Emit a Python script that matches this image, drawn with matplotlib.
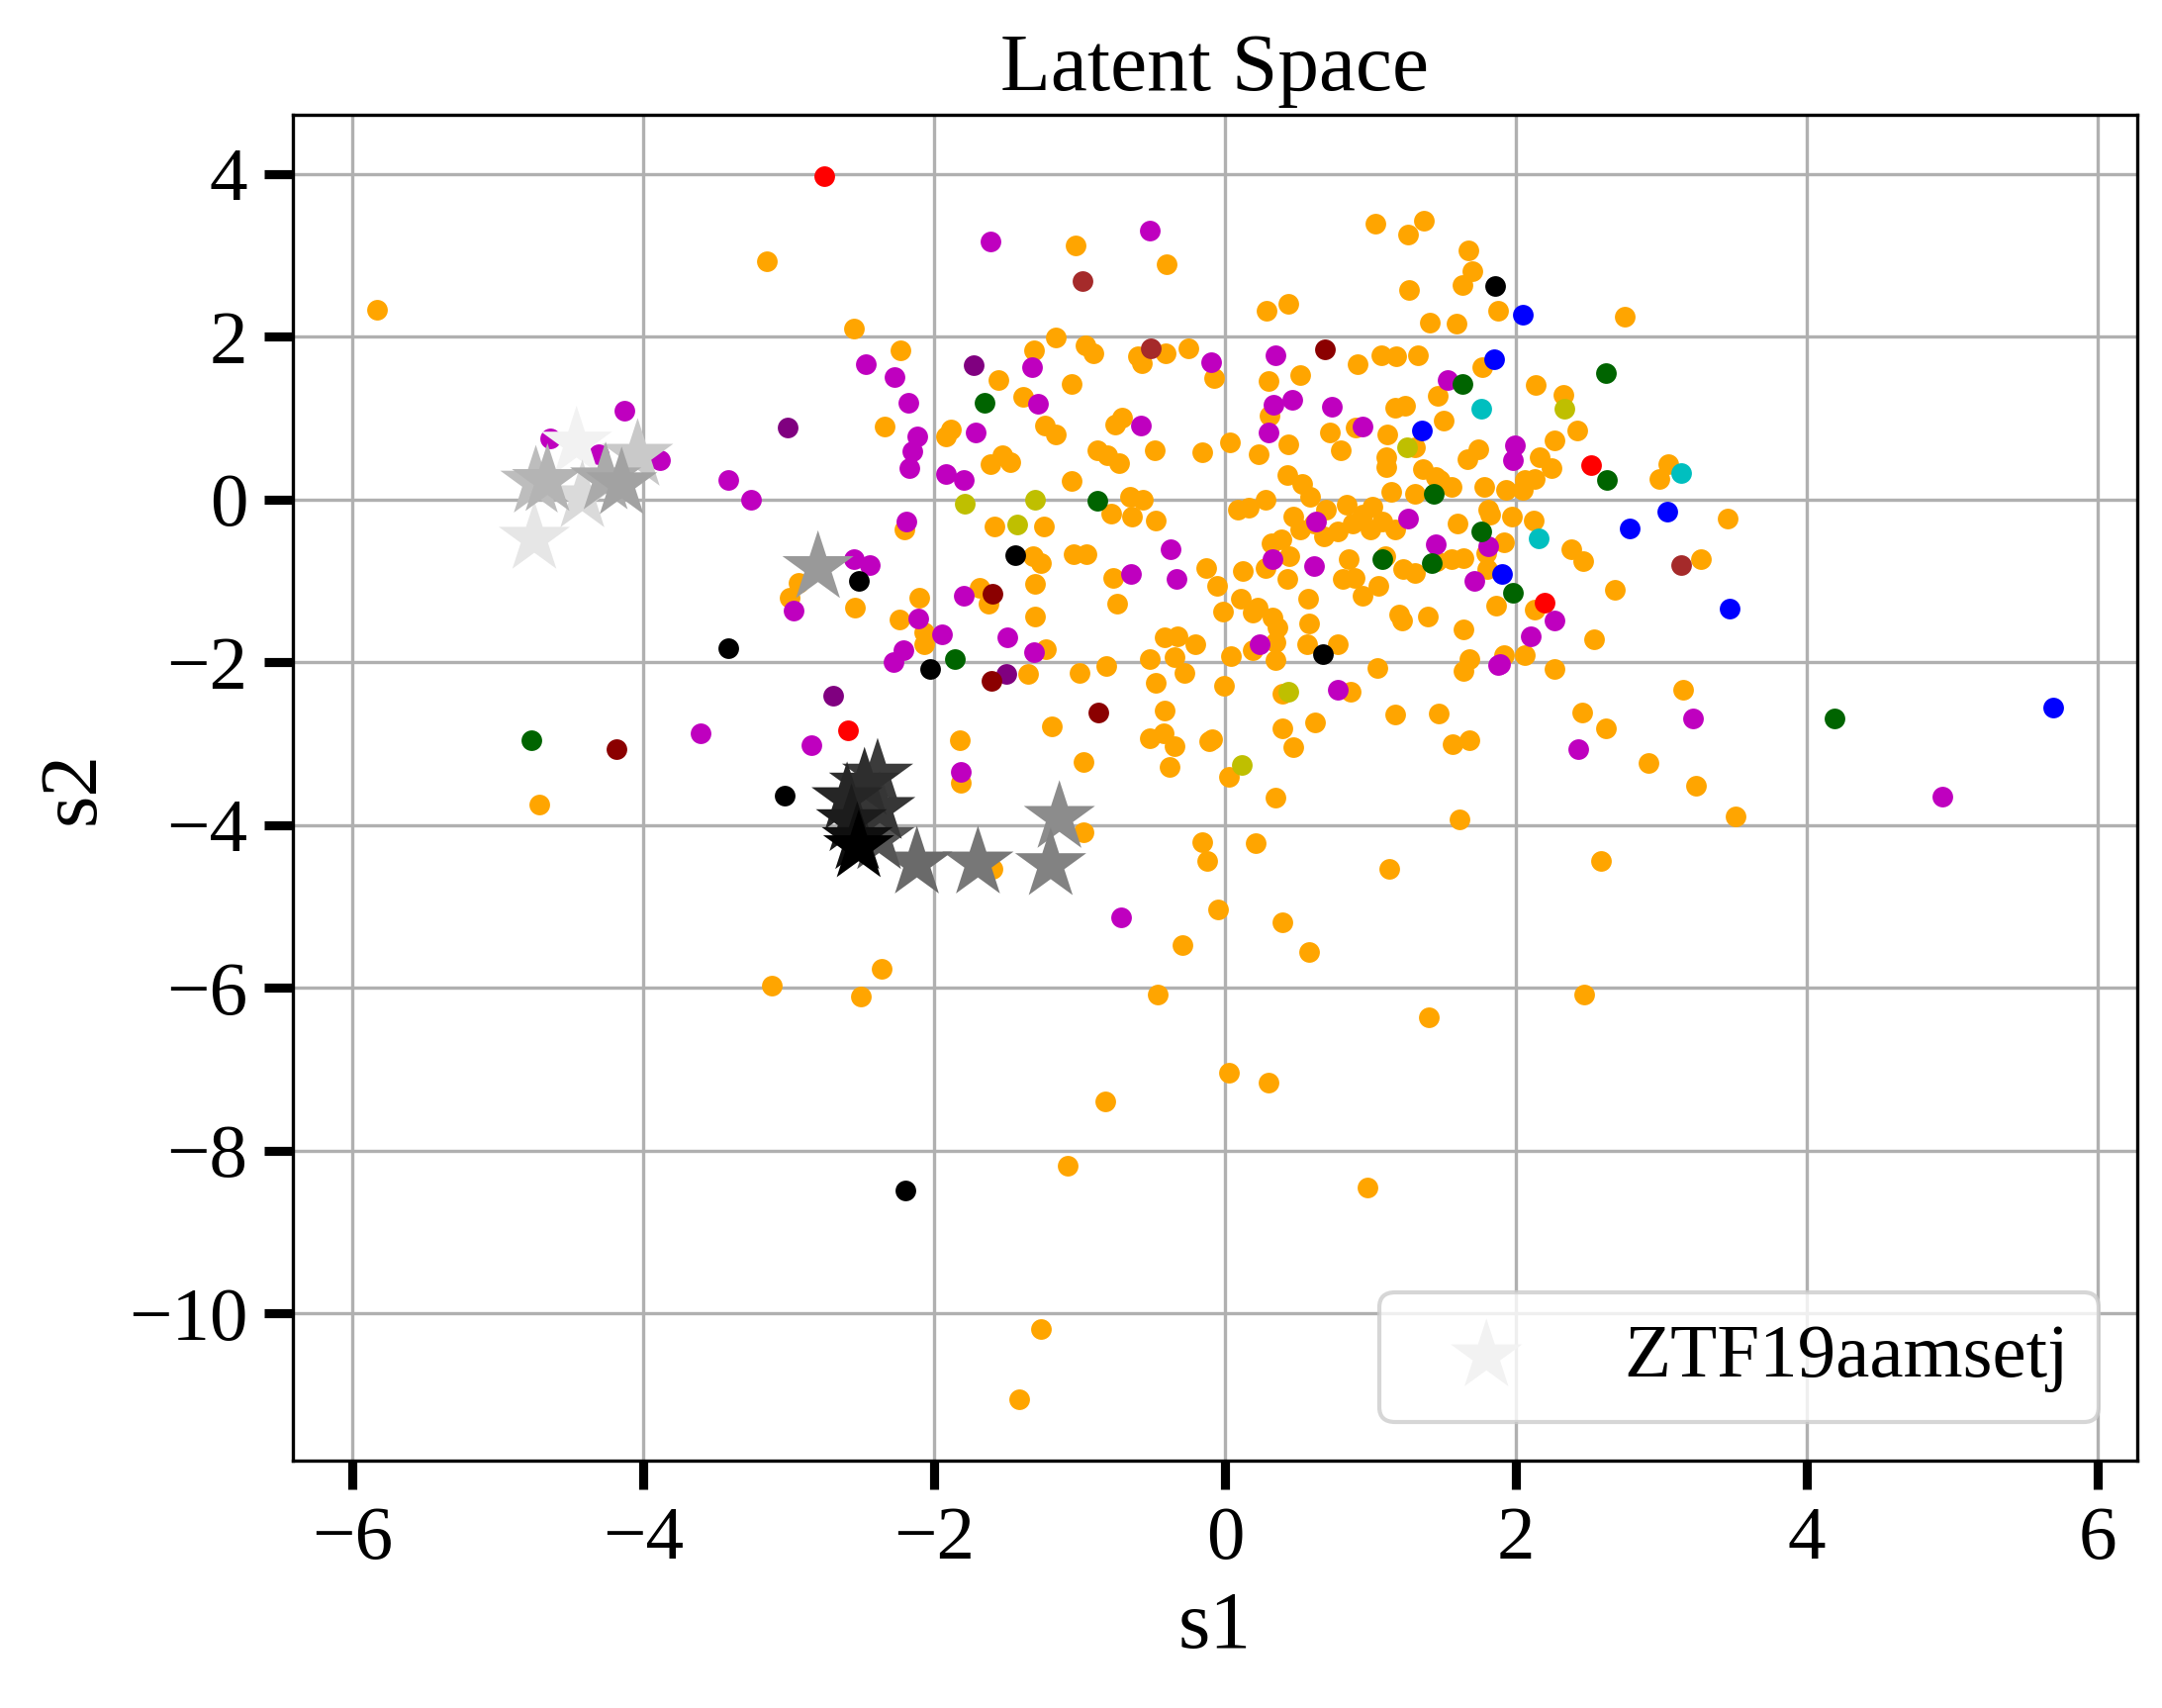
import numpy as np
import matplotlib.pyplot as plt
from matplotlib.ticker import MultipleLocator

plt.rcParams['font.family'] = ['Liberation Serif', 'DejaVu Serif']

# latent positions of the reference objects, grouped by class colour
orange_x = [-3.151, -5.83, -2.553, -2.233, -2.344, -2.207, -2.937, -2.992, -2.547, -2.102,
            -1.029, -0.406, 1.030, 1.255, 1.366, 1.675, 1.698, 1.634, 1.266, 0.287, 0.432, 1.878,
            1.405, 1.589, -1.318, -1.168, -0.962, -0.904, -0.598, -0.573, -0.411, -0.256, -0.080,
            0.913, 1.072, 1.177, 1.328, 1.764, 1.458, 1.236, 1.166, -1.558, -1.057, -1.391, 0.295,
            0.518, 0.304, 0.893, 0.721, 0.796, 0.437, 0.229, 0.031, 1.305, 1.116, 1.110, 1.105,
            1.500, 1.444, 1.361, 1.737, 1.667, 1.778, 1.931, 2.043, 1.138, 1.305, -1.922, -1.886,
            -1.616, -1.533, -1.477, -1.241, -1.166, -0.759, -0.712, -0.879, -0.809, -0.732, -0.487,
            -0.161, -1.057, -0.656, -0.565, -0.781, -0.642, -0.475, 0.087, 0.159, 0.276, 0.429,
            0.526, 0.582, 0.471, 0.610, 0.693, 0.833, 0.944, 1.013, 1.083, 1.166, 0.679, 1.598,
            1.820, 1.917, 1.973, 1.453, 1.556, 1.639, 0.846, 0.805, 0.944, 1.055, 1.222, 1.305,
            1.801, 1.862, 0.443, 0.429, 0.276, 0.123, 0.387, -0.128, -0.058, 0.109, 0.220, 0.568,
            0.888, -0.768, -1.310, -1.630, -1.686, -1.324, -1.268, -1.046, -0.954, -0.740, -1.588,
            -1.249, 1.806, 2.057, 0.512, 0.777, 0.874, 0.999, 0.318, 1.097, 1.792, 1.556, 1.472,
            -2.242, -2.067, -2.067, -1.305, -1.232, -1.357, -1.004, -0.815, -1.191, -1.825, -1.817,
            -0.976, -0.517, -0.420, -0.331, -0.203, -0.350, -0.281, -0.479, -0.418, -0.517, -0.425,
            -0.350, -0.381, -0.114, -0.092, -0.008, -0.016, 0.039, 0.192, 0.026, 0.345, 0.187,
            0.326, 0.359, 0.345, 0.345, 0.393, 0.393, 0.471, 0.615, 0.574, 0.560, 0.777, 0.860,
            1.049, 1.166, 1.194, 1.216, 1.394, 1.467, 1.639, 1.681, 1.639, 1.917, 2.057, 1.561,
            1.681, 1.612, 1.125, -0.156, -0.122, 0.212, -0.976, -1.602, -0.050, 0.390, 0.576,
            -0.292, -0.464, 1.403, 0.025, 0.298,
            2.746, 2.136, 2.325, 2.421, 2.261, 2.160, 2.244, 3.045, 2.987, 2.128, 2.122, 3.451,
            2.377, 2.462, 3.268, 2.682, 2.13, 2.537, 2.267, 3.147, 2.456, 2.615, 2.911, 3.234,
            3.509, 2.586, 2.470,
            -4.718, -3.118, -2.364, -2.508, -0.825, -1.084, 0.98, -1.264, -1.418]
orange_y = [2.924, 2.33, 2.097, 1.833, 0.892, -0.373, -1.021, -1.204, -1.326, -1.204,
            3.119, 2.887, 3.386, 3.260, 3.427, 3.062, 2.802, 2.640, 2.575, 2.324, 2.405, 2.324,
            2.178, 2.161, 1.837, 1.991, 1.898, 1.793, 1.760, 1.675, 1.793, 1.857, 1.493,
            1.659, 1.776, 1.756, 1.776, 1.622, 1.269, 1.148, 1.127, 1.464, 1.415, 1.261, 1.452,
            1.533, 1.026, 0.884, 0.823, 0.608, 0.681, 0.552, 0.702, 0.641, 0.803, 0.519, 0.397,
            0.965, 0.276, 0.377, 0.621, 0.499, 0.154, 0.114, 0.114, 0.093, 0.073, 0.775, 0.864,
            0.438, 0.540, 0.458, 0.904, 0.803, 0.925, 1.006, 0.600, 0.540, 0.446, 0.600,
            0.576, 0.223, 0.032, -0.008, -0.170, -0.211, -0.259, -0.130, -0.097, -0.008, 0.296,
            0.195, 0.032, -0.211, -0.292, -0.130, -0.069, -0.191, -0.089, -0.272, -0.373, -0.454, -0.300,
            -0.191, -0.527, -0.211, -0.758, -0.738, -0.718, -0.738, -0.981, -1.184, -1.062, -0.860, -0.900,
            -0.860, -1.306, -0.697, -0.973, -0.839, -0.880, -0.495, -0.839, -1.062, -1.224, -1.326, -1.224,
            -0.961, -0.961, -1.042, -1.285, -1.082, -0.697, -0.778, -0.677, -0.677, -1.285, -0.333,
            -0.333, -0.130, 0.235, -0.373, -0.393, -0.292, -0.373, -0.535, -0.697, -0.657, 0.154, 0.235,
            -1.472, -1.634, -1.776, -1.444, -1.837, -2.141, -2.129, -2.048, -2.790, -2.960, -3.479,
            -3.228, -1.959, -1.695, -1.687, -1.784, -1.939, -2.133, -2.255, -2.595, -2.940, -2.871,
            -3.033, -3.285, -2.973, -2.944, -2.295, -1.379, -1.930, -1.391, -3.410, -3.662, -1.849,
            -1.452, -1.574, -1.756, -1.979, -2.385, -2.810, -3.046, -2.737, -1.525, -1.776, -1.784, -2.364,
            -2.068, -2.648, -1.419, -1.492, -1.444, -2.636, -1.594, -1.959, -2.109, -1.918, -1.918, -3.013,
            -2.960, -3.926, -4.542, -4.209, -4.445, -4.218, -4.088, -4.534, -5.041, -5.191, -5.556,
            -5.479, -6.087, -6.359, -7.048, -7.161,
            2.251, 1.403, 1.282, 0.852, 0.722, 0.519, 0.385, 0.438, 0.256, 0.256, -0.259, -0.239,
            -0.616, -0.758, -0.738, -1.111, -1.36, -1.715, -2.089, -2.344, -2.620, -2.818, -3.236, -3.520,
            -3.893, -4.440, -6.083,
            -3.747, -5.973, -5.771, -6.107, -7.40, -8.19, -8.46, -10.19, -11.06]

magenta_x = [-2.472, -2.277, -2.18, -2.116, -2.15, -2.169, -4.128, -4.64, -4.31, -3.888, -3.418,
             -3.26, -2.19, -2.553, -2.447, -2.97,
             -1.616, -0.520, -0.094, 0.343, 1.528, -1.330, -1.285, 0.462, 0.332, 0.295, 0.735, 0.946,
             1.993, 1.979, -1.716, -1.922, -1.797, -0.581, 0.624, 1.258, 1.806, 1.450, 1.714, 0.610,
             0.326, -0.336, -0.378, -0.648, -1.797,
             -2.111, -1.945, -2.214, -2.28, -1.497, -1.316, -1.817, 0.234, 0.777, 1.876, -0.718,
             2.261, 2.099, 1.890, 3.213, 2.427, 4.929, -3.610, -2.845]
magenta_y = [1.663, 1.509, 1.184, 0.771, 0.588, 0.389, 1.095, 0.755, 0.56, 0.479, 0.235,
             -0.008, -0.27, -0.738, -0.811, -1.37,
             3.171, 3.301, 1.691, 1.776, 1.464, 1.626, 1.180, 1.225, 1.168, 0.823, 1.140, 0.900,
             0.661, 0.479, 0.823, 0.316, 0.235, 0.904, -0.272, -0.239, -0.576, -0.555, -1.001, -0.819,
             -0.730, -0.973, -0.616, -0.920, -1.184,
             -1.460, -1.655, -1.857, -2.0, -1.695, -1.878, -3.350, -1.776, -2.344, -2.040, -5.134,
             -1.484, -1.687, -2.028, -2.689, -3.074, -3.654, -2.879, -3.021]

purple_x = [-3.012, -1.733, -1.505, -2.697]
purple_y = [0.884, 1.646, -2.141, -2.413]

green_x = [-1.658, 1.628, -0.879, 1.433, 1.759, 1.417, 1.083, 1.981, -1.858, 2.615, 2.624, 4.192, -4.773]
green_y = [1.184, 1.415, -0.016, 0.073, -0.393, -0.778, -0.738, -1.143, -1.959, 1.553, 0.243, -2.689, -2.964]

red_x = [-2.756, 2.514, 2.194, -2.597]
red_y = [3.974, 0.426, -1.273, -2.843]

blue_x = [2.043, 1.851, 1.353, 1.904, 3.036, 2.784, 3.466, 5.695]
blue_y = [2.271, 1.724, 0.844, -0.920, -0.150, -0.353, -1.346, -2.563]

black_x = [1.853, -2.52, -1.441, -2.028, 0.671, -3.418, -3.026, -2.20]
black_y = [2.628, -1.0, -0.689, -2.080, -1.898, -1.825, -3.642, -8.49]

brown_x = [-0.979, -0.512, 3.132]
brown_y = [2.681, 1.857, -0.807]

darkred_x = [0.688, -1.602, -1.608, -0.871, -4.189]
darkred_y = [1.845, -1.164, -2.235, -2.616, -3.074]

cyan_x = [1.759, 3.132, 2.157]
cyan_y = [1.111, 0.325, -0.474]

olive_x = [1.250, -1.791, -1.307, -1.430, 0.117, 0.437, 2.334]
olive_y = [0.641, -0.049, -0.008, -0.312, -3.269, -2.364, 1.119]

# ZTF19aamsetj path through the latent space
star_x = [-4.46, -4.75, -4.42, -4.04, -4.74, -4.66, -4.26, -4.15, -2.80, -1.14, -1.20, -1.70,
          -2.12, -2.38, -2.39, -2.375, -2.48, -2.60, -2.57, -2.53, -2.52]
star_y = [0.69, -0.48, 0.03, 0.54, 0.21, 0.23, 0.25, 0.19, -0.84, -3.91, -4.49, -4.47,
          -4.47, -4.17, -3.39, -3.80, -3.50, -3.68, -3.95, -4.17, -4.27]
star_grey = [0.95, 0.90, 0.855, 0.79, 0.74, 0.705, 0.665, 0.635, 0.60, 0.55, 0.51, 0.465,
             0.415, 0.335, 0.23, 0.21, 0.18, 0.15, 0.11, 0.06, 0.0]

fig, ax = plt.subplots(figsize=(2185/300, 1726/300), dpi=300)
fig.subplots_adjust(left=0.1355, right=0.9885, top=0.933, bottom=0.1449)

dot = 25
ax.scatter(orange_x, orange_y, s=dot, c='orange', linewidths=0)
ax.scatter(magenta_x, magenta_y, s=dot, c='m', linewidths=0)
ax.scatter(purple_x, purple_y, s=dot, c='purple', linewidths=0)
ax.scatter(green_x, green_y, s=dot, c='darkgreen', linewidths=0)
ax.scatter(red_x, red_y, s=dot, c='red', linewidths=0)
ax.scatter(blue_x, blue_y, s=dot, c='blue', linewidths=0)
ax.scatter(black_x, black_y, s=dot, c='black', linewidths=0)
ax.scatter(brown_x, brown_y, s=dot, c='brown', linewidths=0)
ax.scatter(darkred_x, darkred_y, s=dot, c='darkred', linewidths=0)
ax.scatter(cyan_x, cyan_y, s=dot, c='c', linewidths=0)
ax.scatter(olive_x, olive_y, s=dot, c='y', linewidths=0)

cols = [str(g) for g in star_grey]
ax.scatter(star_x, star_y, s=330, marker='*', c=cols, linewidths=0, zorder=3,
           label='ZTF19aamsetj')

ax.set_xlim(-6.41, 6.27)
ax.set_ylim(-11.81, 4.73)
ax.xaxis.set_major_locator(MultipleLocator(2))
ax.yaxis.set_major_locator(MultipleLocator(2))
ax.grid(True)
ax.set_axisbelow(True)
ax.tick_params(length=7, width=2.2, pad=4, labelsize=18.5)
ax.set_xlabel('s1', fontsize=20)
ax.set_ylabel('s2', fontsize=20)
ax.set_title('Latent Space', fontsize=20)
ax.legend(loc='lower right', fontsize=18.5)

fig.savefig('out.png', dpi=300)
